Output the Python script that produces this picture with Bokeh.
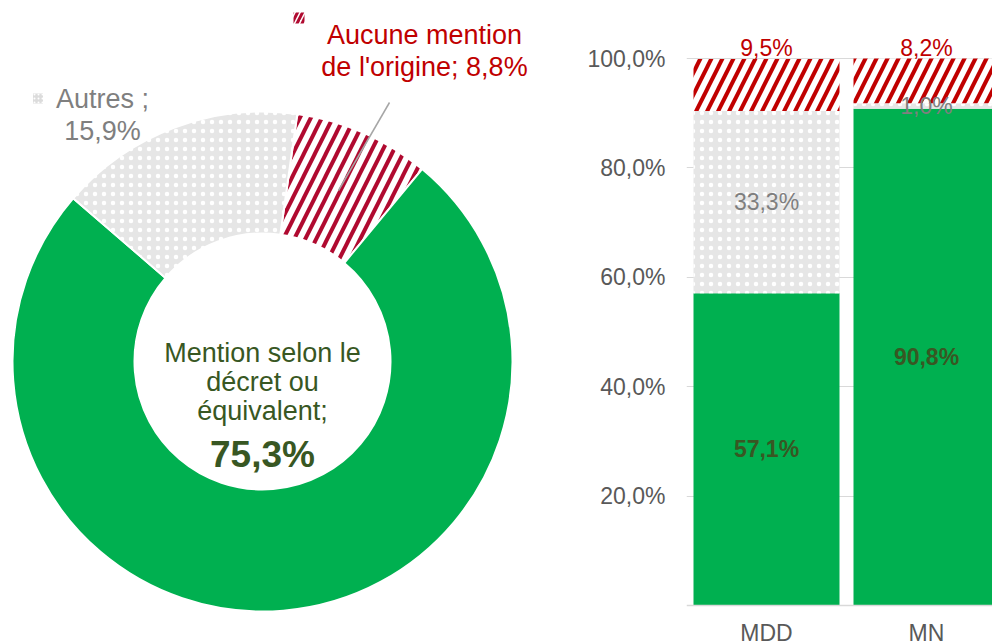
import numpy as np
from bokeh.plotting import figure
from bokeh.layouts import row
from bokeh.models import Range1d, FixedTicker, Span
from bokeh.core.properties import value
from bokeh.embed import file_html
from bokeh.resources import INLINE

# ---------------- data ----------------
donut_names = ["Aucune mention de l'origine", "Mention selon le décret ou équivalent", "Autres"]
donut_values = [8.8, 75.3, 15.9]

bar_categories = ["MDD", "MN"]
bar_series = ["Mention selon le décret ou équivalent", "Autres", "Aucune mention de l'origine"]
bar_mention = [57.1, 90.8]
bar_autres = [33.3, 1.0]
bar_aucune = [9.5, 8.2]

y_ticks = [20, 40, 60, 80, 100]
y_tick_labels = ["20,0%", "40,0%", "60,0%", "80,0%", "100,0%"]

# ---------------- style ----------------
FONT = "Liberation Sans"
GREEN = "#00B050"
DARK_GREEN = "#385723"
RED_TXT = "#C00000"
RED_DONUT = "#B00A30"
RED_BAR = "#C00000"
GRAY_FILL = "#E6E6E6"
GRAY_TXT = "#7F7F7F"
AXIS_TXT = "#595959"
GRID = "#D9D9D9"


def fmt(v):
    return f"{v:.1f}".replace(".", ",") + "%"


PAGE_H = 643

# ---------------- donut figure ----------------
W1 = 580
p1 = figure(width=W1, height=PAGE_H, output_backend="svg", toolbar_location=None,
            title=None, x_range=Range1d(0, W1), y_range=Range1d(0, PAGE_H),
            x_axis_location=None, y_axis_location=None,
            min_border=0, outline_line_color=None)
p1.grid.visible = False


def sy(y):  # screen y -> data y
    return PAGE_H - y


cx, cy = 262, sy(361)
r_out, r_in = 250, 128
offset = 8.0  # degrees clockwise from top
vals = np.array(donut_values)
cum = np.concatenate([[0], np.cumsum(vals)])
starts = 90 - (offset + cum[:-1] * 3.6)
ends = 90 - (offset + cum[1:] * 3.6)

# red hatched
p1.annular_wedge(x=cx, y=cy, inner_radius=r_in, outer_radius=r_out,
                 start_angle=starts[0], end_angle=ends[0], start_angle_units="deg",
                 end_angle_units="deg", direction="clock",
                 fill_color="white", hatch_pattern="/", hatch_color=RED_DONUT,
                 hatch_scale=22, hatch_weight=4, line_color="white", line_width=2)
# green
p1.annular_wedge(x=cx, y=cy, inner_radius=r_in, outer_radius=r_out,
                 start_angle=starts[1], end_angle=ends[1], start_angle_units="deg",
                 end_angle_units="deg", direction="clock",
                 fill_color=GREEN, line_color="white", line_width=2)
# gray dotted
p1.annular_wedge(x=cx, y=cy, inner_radius=r_in, outer_radius=r_out,
                 start_angle=starts[2], end_angle=ends[2], start_angle_units="deg",
                 end_angle_units="deg", direction="clock",
                 fill_color=GRAY_FILL, hatch_pattern=".", hatch_color="white",
                 hatch_scale=9, hatch_weight=1.5, line_color="white", line_width=2)

# leader line for "Aucune mention"
p1.line(x=[389, 338], y=[sy(102), sy(190)], line_color="#A6A6A6", line_width=1.5)

# label: Aucune mention
p1.rect(x=298.5, y=sy(17.5), width=11, height=11, fill_color="white", hatch_pattern="/",
        hatch_color=RED_DONUT, hatch_scale=10, hatch_weight=3, line_color=None)
p1.text(x=[424, 424], y=[sy(34.5), sy(66.5)],
        text=["Aucune mention", "de l'origine; " + fmt(donut_values[0])],
        text_align="center", text_baseline="middle", text_color=RED_TXT,
        text_font=value(FONT), text_font_size="27px")

# label: Autres
p1.rect(x=37.5, y=sy(98), width=10, height=10, fill_color="#DCDCDC", hatch_pattern=".",
        hatch_color="white", hatch_scale=4, hatch_weight=1, line_color=None)
p1.text(x=[102, 102], y=[sy(98.5), sy(130.5)],
        text=["Autres ;", fmt(donut_values[2])],
        text_align="center", text_baseline="middle", text_color=GRAY_TXT,
        text_font=value(FONT), text_font_size="27px")

# center label
p1.text(x=[cx, cx, cx], y=[sy(352.5), sy(381.5), sy(410.5)],
        text=["Mention selon le", "décret ou", "équivalent;"],
        text_align="center", text_baseline="middle", text_color=DARK_GREEN,
        text_font=value(FONT), text_font_size="27px")
p1.text(x=[cx], y=[sy(453.5)], text=[fmt(donut_values[1])],
        text_align="center", text_baseline="middle", text_color=DARK_GREEN,
        text_font=value(FONT), text_font_size="37px", text_font_style="bold")

# ---------------- bar figure ----------------
W2 = 992 - W1
left_border = 106
top_border = 0
frame_w = W2 - left_border
px_per_cat = 160.0
zero_px = 605 - top_border          # frame px from top to 0%
px_per_pct = 5.47
frame_h = PAGE_H - top_border
y_end = zero_px / px_per_pct
y_start = -(frame_h - zero_px) / px_per_pct


def py(y_screen):  # screen y -> bar data value
    return (605 - y_screen) / px_per_pct


p2 = figure(width=W2, height=PAGE_H, output_backend="svg", toolbar_location=None,
            title=None, x_range=Range1d(0, frame_w / px_per_cat),
            y_range=Range1d(y_start, y_end),
            x_axis_location=None, min_border_left=left_border, min_border_right=0,
            min_border_top=top_border, min_border_bottom=0, outline_line_color=None)
p2.xgrid.visible = False
p2.ygrid.grid_line_color = GRID
p2.ygrid.grid_line_width = 1
p2.yaxis.ticker = FixedTicker(ticks=y_ticks)
p2.yaxis.major_label_overrides = {t: l for t, l in zip(y_ticks, y_tick_labels)}
p2.yaxis.axis_line_color = None
p2.yaxis.major_tick_line_color = None
p2.yaxis.minor_tick_line_color = None
p2.yaxis.major_tick_out = 0
p2.yaxis.major_label_standoff = 21
p2.yaxis.major_label_text_font = FONT
p2.yaxis.major_label_text_font_size = "23px"
p2.yaxis.major_label_text_color = AXIS_TXT
p2.add_layout(Span(location=0, dimension="width", line_color=GRID, line_width=1.5))

xs = np.arange(len(bar_categories)) + 0.5
bw = 146 / px_per_cat
m = np.array(bar_mention)
a = np.array(bar_autres)
r = np.array(bar_aucune)
b1, t1 = np.zeros_like(m), m
b2, t2 = t1, t1 + a
b3, t3 = t2, t2 + r

p2.vbar(x=xs, bottom=b1, top=t1, width=bw, fill_color=GREEN, line_color=None)
p2.vbar(x=xs, bottom=b2, top=t2, width=bw, fill_color=GRAY_FILL, hatch_pattern=".",
        hatch_color="white", hatch_scale=9, hatch_weight=1.5, line_color=None)
p2.vbar(x=xs, bottom=b3, top=t3, width=bw, fill_color="white", hatch_pattern="/",
        hatch_color=RED_BAR, hatch_scale=22, hatch_weight=4, line_color=None)

# bar labels
p2.text(x=xs, y=(b1 + t1) / 2, text=[fmt(v) for v in m], text_align="center",
        text_baseline="middle", text_color=DARK_GREEN, text_font=value(FONT),
        text_font_size="23px", text_font_style="bold")
p2.text(x=xs, y=(b2 + t2) / 2, text=[fmt(v) for v in a], text_align="center",
        text_baseline="middle", text_color=GRAY_TXT, text_font=value(FONT),
        text_font_size="23px")
p2.text(x=xs, y=t3 + 11 / px_per_pct, text=[fmt(v) for v in r], text_align="center",
        text_baseline="middle", text_color=RED_TXT, text_font=value(FONT),
        text_font_size="23px")
# category labels
p2.text(x=xs, y=[py(632)] * len(xs), text=bar_categories, text_align="center",
        text_baseline="middle", text_color=AXIS_TXT, text_font=value(FONT),
        text_font_size="23px")

layout = row(p1, p2, spacing=0)
open("out.html", "w").write(file_html(layout, INLINE))
